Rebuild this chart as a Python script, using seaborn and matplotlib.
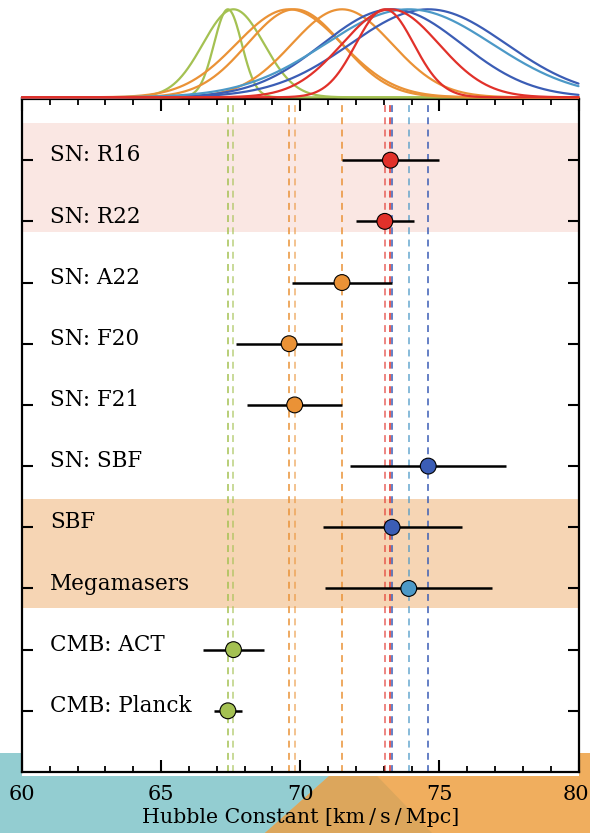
import numpy as np
import pandas as pd
import matplotlib
matplotlib.use("Agg")
import matplotlib.pyplot as plt
import matplotlib.transforms as mtransforms
from matplotlib.patches import Polygon, Rectangle
from matplotlib.ticker import MultipleLocator
import seaborn as sns

# H0 measurements (km/s/Mpc) with 1-sigma uncertainties
labels = ["SN: R16", "SN: R22", "SN: A22", "SN: F20", "SN: F21",
          "SN: SBF", "SBF", "Megamasers", "CMB: ACT", "CMB: Planck"]
h0 = [73.24, 73.04, 71.5, 69.6, 69.8, 74.6, 73.3, 73.9, 67.6, 67.4]
h0_err = [1.74, 1.04, 1.8, 1.9, 1.7, 2.8, 2.5, 3.0, 1.1, 0.5]
colors = ["#e1312a", "#e1312a", "#ea9236", "#ea9236", "#ea9236",
          "#3b5db5", "#3b5db5", "#4c99c7", "#a4c152", "#a4c152"]
line_alpha = [1.0, 0.75, 1.0, 1.0, 0.7, 1.0, 1.0, 0.85, 0.75, 1.0]
xticks = [60, 65, 70, 75, 80]

df = pd.DataFrame({"label": labels, "h0": h0, "err": h0_err,
                   "pos": np.arange(len(labels))})
palette = dict(zip(labels, colors))

sns.set_theme(style="white")
plt.rcParams["font.family"] = ["DejaVu Serif", "Liberation Serif"]
plt.rcParams["text.color"] = "black"
plt.rcParams["xtick.color"] = "black"
plt.rcParams["axes.labelcolor"] = "black"

W, H = 590, 833
fig = plt.figure(figsize=(W / 100, H / 100), dpi=100, facecolor="white")


def fx(px):
    return px / W


def fy(py):
    return 1 - py / H


# slide-style backdrop along the bottom edge
tf = fig.transFigure
teal = Polygon([(fx(0), fy(753)), (fx(355), fy(753)), (fx(432), fy(833)), (fx(0), fy(833))],
               closed=True, transform=tf, facecolor="#93cdd1", edgecolor="none", zorder=-3)
orange = Polygon([(fx(355), fy(753)), (fx(590), fy(753)), (fx(590), fy(833)), (fx(265), fy(833))],
                 closed=True, transform=tf, facecolor="#f0ae5e", edgecolor="none", zorder=-3)
overlap = Polygon([(fx(355), fy(753)), (fx(432), fy(833)), (fx(265), fy(833))],
                  closed=True, transform=tf, facecolor="#dca65c", edgecolor="none", zorder=-2)
under = Rectangle((fx(22), fy(776)), fx(578.5) - fx(22), fy(760) - fy(776),
                  transform=tf, facecolor="white", edgecolor="none", zorder=-1)
for p in (teal, orange, overlap, under):
    fig.add_artist(p)

# main panel
ax = fig.add_axes([fx(22), fy(772), fx(578.5) - fx(22), fy(99) - fy(772)])
ax.set_facecolor("white")
ax.set_xlim(60, 80)
ax.set_ylim(10, -1)

ax.axhspan(-0.6, 1.18, color="#fae7e3", zorder=0, lw=0)
ax.axhspan(5.54, 7.32, color="#f6d5b4", zorder=0, lw=0)

for m, c, a in zip(h0, colors, line_alpha):
    ax.axvline(m, color=c, lw=1.1, dashes=(4.5, 3.5), alpha=a, zorder=1)

ax.hlines(df["pos"], df["h0"] - df["err"], df["h0"] + df["err"],
          color="black", lw=1.8, zorder=2)
sns.scatterplot(data=df, x="h0", y="pos", hue="label", palette=palette,
                s=130, edgecolor="black", linewidth=0.8, legend=False,
                ax=ax, zorder=3)

for i, lab in enumerate(labels):
    ax.text(61.0, i + 0.02, lab, ha="left", va="baseline", fontsize=15.5,
            color="black", zorder=4)

ax.set_yticks(range(len(labels)))
ax.set_yticklabels([])
ax.set_ylabel("")
ax.set_xticks(xticks)
ax.set_xticklabels([str(t) for t in xticks])
ax.xaxis.set_minor_locator(MultipleLocator(1))
ax.tick_params(axis="y", which="major", direction="in", left=True, right=True,
               length=8, width=1.5, color="black")
ax.tick_params(axis="x", which="major", direction="in", top=True, bottom=True,
               length=8.5, width=1.5, color="black", labelcolor="black",
               labelsize=15, pad=9.5)
ax.tick_params(axis="x", which="minor", direction="in", top=True, bottom=True,
               length=4.3, width=1.3, color="black")
for s in ax.spines.values():
    s.set_color("black")
    s.set_linewidth(1.6)
ax.set_xlabel("Hubble Constant [km\u2009/\u2009s\u2009/\u2009Mpc]", fontsize=14.8,
              labelpad=2.5, color="black")

# nudge the rightmost tick label so it stays inside the canvas
last = ax.get_xticklabels()[-1]
last.set_transform(last.get_transform()
                   + mtransforms.ScaledTranslation(-3 / 100, 0, fig.dpi_scale_trans))

# Gaussian likelihood strip above the panel
axt = fig.add_axes([fx(22), fy(97.3), fx(578.5) - fx(22), fy(9.3) - fy(97.3)])
axt.set_xlim(60, 80)
axt.set_ylim(0, 1)
axt.set_axis_off()
axt.patch.set_alpha(0)
grid = np.linspace(60, 80, 800)
order = [8, 9, 2, 3, 4, 5, 6, 7, 0, 1]
for i in order:
    curve = pd.DataFrame({"x": grid,
                          "y": np.exp(-0.5 * ((grid - h0[i]) / h0_err[i]) ** 2)})
    sns.lineplot(data=curve, x="x", y="y", color=colors[i], lw=1.6,
                 ax=axt, clip_on=False)
axt.set_xlabel("")
axt.set_ylabel("")

fig.savefig("out.png", dpi=100, facecolor="white")
